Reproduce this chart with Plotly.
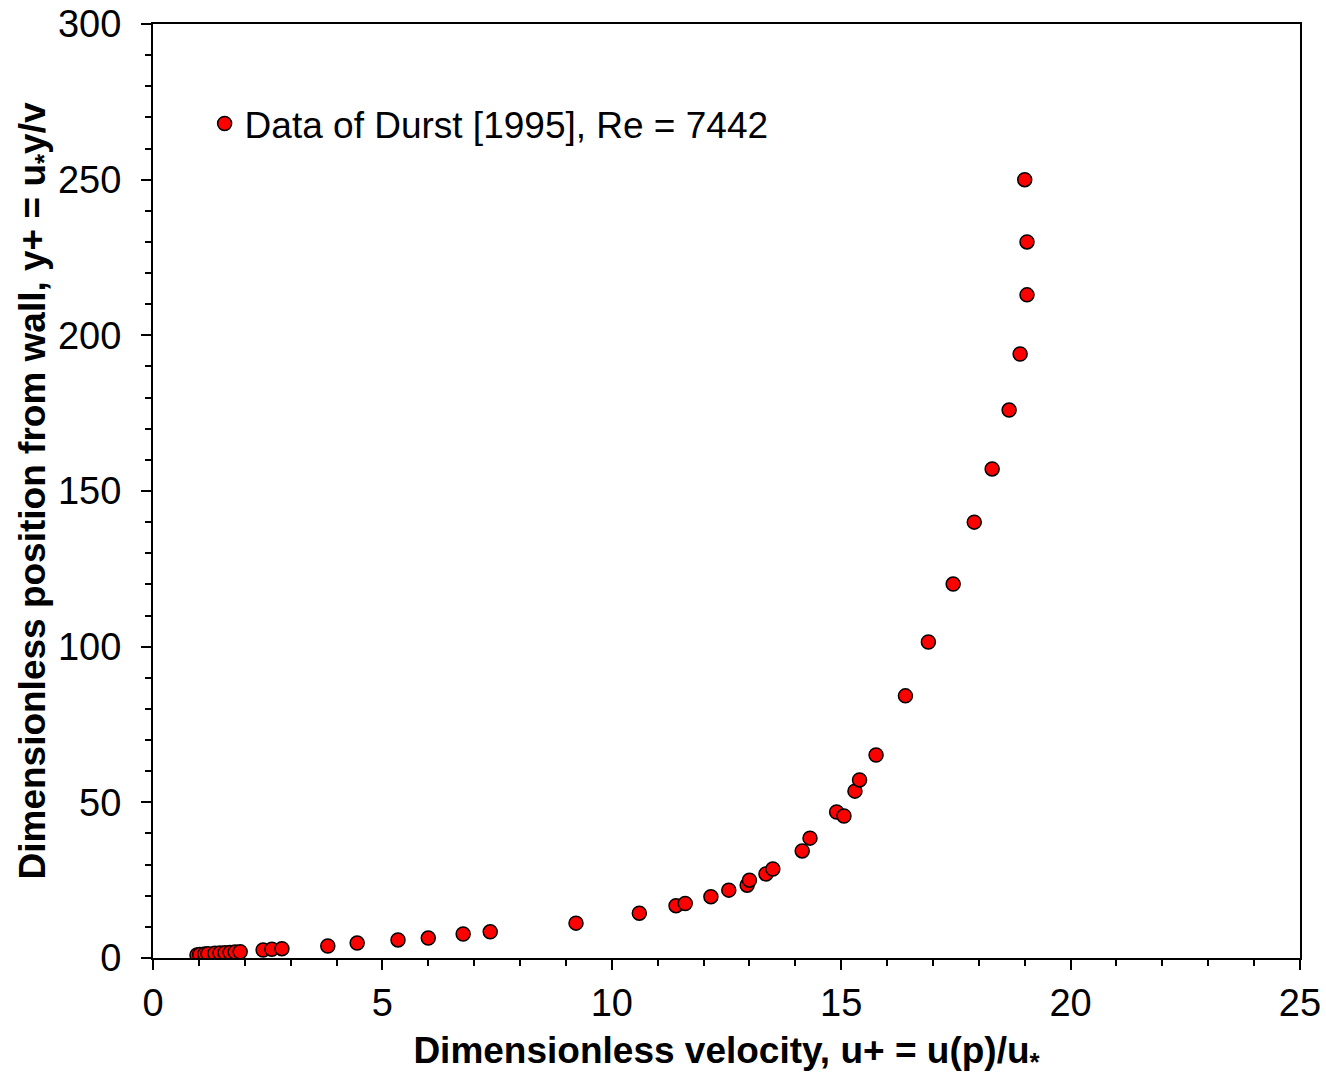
import plotly.graph_objects as go

# Data (Durst 1995, Re = 7442)
u_plus = [0.96, 1.02, 1.13, 1.20, 1.35, 1.46, 1.57, 1.68, 1.79, 1.90,
          2.40, 2.59, 2.81, 3.81, 4.45, 5.34, 6.00, 6.76, 7.35,
          9.22, 10.60, 11.40, 11.60, 12.16, 12.55, 12.95, 13.00, 13.36, 13.51,
          14.15, 14.32, 14.90, 15.06, 15.30, 15.40, 15.76, 16.40, 16.90,
          17.44, 17.90, 18.29, 18.66, 18.90, 19.05, 19.05, 19.00]
y_plus = [0.96, 1.10, 1.28, 1.40, 1.50, 1.60, 1.70, 1.80, 1.90, 2.00,
          2.57, 2.80, 3.00, 3.85, 4.80, 5.80, 6.40, 7.70, 8.40,
          11.2, 14.4, 16.8, 17.5, 19.7, 21.8, 23.4, 25.0, 27.0, 28.6,
          34.4, 38.5, 46.9, 45.6, 53.6, 57.2, 65.2, 84.2, 101.5,
          120.1, 140.0, 157.1, 176.0, 194.0, 213.0, 230.0, 250.0]

series_name = "Data of Durst [1995], Re = 7442"
x_title = "<b>Dimensionless velocity, u+ = u(p)/u<sub>*</sub></b>"
y_title = "<b>Dimensionless position from wall, y+ = u<sub>*</sub>y/v</b>"

FONT = "Liberation Sans"

fig = go.Figure()
fig.add_trace(go.Scatter(
    x=u_plus, y=y_plus, mode="markers", name=series_name,
    marker=dict(size=14, color="#FF0000", line=dict(color="black", width=1.5)),
))

axis_common = dict(
    showgrid=False, zeroline=False, showline=True, linecolor="black",
    linewidth=2, mirror=True, ticks="outside", ticklen=10, tickwidth=2,
    tickcolor="black", tickfont=dict(family=FONT, size=38, color="black"),
    automargin=False,
)

fig.update_xaxes(
    range=[0, 25], tick0=0, dtick=5, ticklabelstandoff=0,
    minor=dict(dtick=1, ticks="outside", ticklen=6, tickwidth=1.5, tickcolor="black"),
    title=dict(text=x_title, font=dict(family=FONT, size=37, color="black"), standoff=22),
    **axis_common,
)
fig.update_yaxes(
    range=[0, 300], tick0=0, dtick=50, ticklabelstandoff=12,
    minor=dict(dtick=10, ticks="outside", ticklen=6, tickwidth=1.5, tickcolor="black"),
    title=dict(text=y_title, font=dict(family=FONT, size=37, color="black"), standoff=0),
    **axis_common,
)

fig.update_layout(
    width=1326, height=1076,
    margin=dict(l=153, r=26, t=24, b=118),
    plot_bgcolor="white", paper_bgcolor="white",
    font=dict(family=FONT, color="black"),
    showlegend=True,
    legend=dict(
        x=0.045, y=0.893, xanchor="left", yanchor="middle",
        font=dict(family=FONT, size=37, color="black"),
        bgcolor="rgba(0,0,0,0)", borderwidth=0,
    ),
)

fig.write_html("out.html")
